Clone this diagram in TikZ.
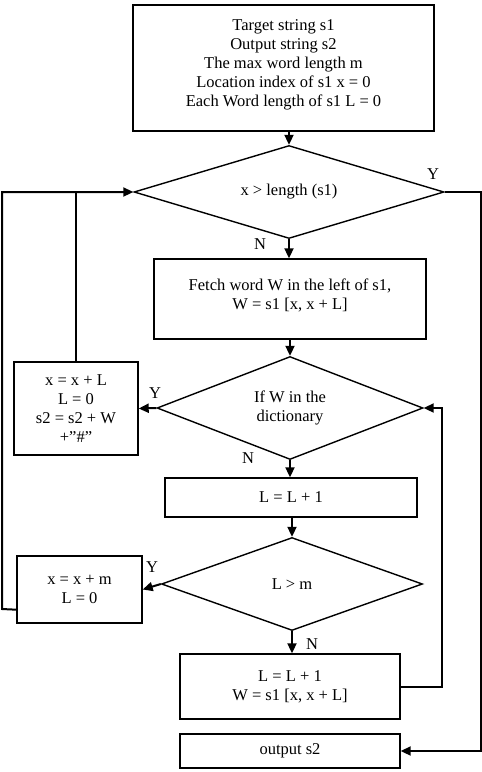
\documentclass[tikz,border=0pt]{standalone}
\usepackage{fontspec}
\setmainfont{Liberation Serif}
\usetikzlibrary{shapes.geometric,arrows.meta}
\begin{document}
\begin{tikzpicture}[x=1pt,y=-1pt,
  every node/.style={font=\fontsize{16.5}{19}\selectfont, inner sep=0pt},
  box/.style={draw, line width=1.4pt, align=center},
  dec/.style={draw, diamond, line width=1.4pt, align=center},
  conn/.style={line width=2pt},
  arr/.style={conn, -{Triangle[length=10pt,width=9pt]}}]
\useasboundingbox (0,0) rectangle (482,772);

\node[box, minimum width=301pt, minimum height=126pt] (init) at (283.5,68)
  {Target string s1\\Output string s2\\The max word length m\\Location index of s1 x = 0\\Each Word length of s1 L = 0\\[-10pt]\mbox{}};
\node[dec, aspect=3.33, minimum width=310pt, minimum height=93pt] (d1) at (289,192) {x > length (s1)};
\node[box, minimum width=272pt, minimum height=80pt] (fetch) at (290,299)
  {Fetch word W in the left of s1,\\W = s1 [x, x + L]\\[-10pt]\mbox{}};
\node[dec, aspect=2.58, minimum width=266pt, minimum height=103pt] (d2) at (290,408) {If W in the\\dictionary};
\node[box, minimum width=124pt, minimum height=93pt] (left1) at (76,408.5)
  {x = x + L\\L = 0\\s2 = s2 + W\\+”\#”};
\node[box, minimum width=252pt, minimum height=39pt] (inc) at (291,497.5) {L = L + 1};
\node[dec, aspect=2.8, minimum width=261pt, minimum height=93pt] (d3) at (292,584) {L > m};
\node[box, minimum width=125pt, minimum height=67pt] (left2) at (79.5,589.5) {x = x + m\\L = 0};
\node[box, minimum width=220pt, minimum height=65pt] (incw) at (290,686.5) {L = L + 1\\W = s1 [x, x + L]};
\node[box, minimum width=220pt, minimum height=34pt] (out) at (290,751) {output s2};

% labels
\node (y1) at (433,174) {Y};
\node (n1) at (260,244) {N};
\node (y2) at (155,393) {Y};
\node (n2) at (248,458) {N};
\node (y3) at (152,567) {Y};
\node (n3) at (312,644) {N};

% coordinates
\coordinate (lc1) at (2,609);
\coordinate (lc2) at (2,192);
\coordinate (rc1) at (481,192);
\coordinate (rc2) at (481,751);
\coordinate (fc1) at (442,687);
\coordinate (fc2) at (442,408);

% connectors
\draw[arr] (d1.north |- init.south) -- (d1.north);
\draw[arr] (d1.south) -- (d1.south |- fetch.north);
\draw[arr] (fetch.south) -- (d2.north);
\draw[arr] (d2.west) -- (left1.east);
\draw[conn] (left1.north) -- (left1.north |- d1.west);
\draw[arr] ([yshift=14pt]left2.south west) -- (lc1) -- (lc2) -- (d1.west);
\draw[arr] (d2.south) -- (d2.south |- inc.north);
\draw[arr] (inc.south) -- (inc.south -| d3.north) -- (d3.north);
\draw[arr] (d3.west) -- (left2.east);
\draw[arr] (d3.south) -- (d3.south |- incw.north);
\draw[arr] (incw.east |- fc1) -- (fc1) -- (fc2) -- (d2.east);
\draw[arr] (d1.east) -- (rc1) -- (rc2) -- (out.east |- rc2);
\end{tikzpicture}
\end{document}
